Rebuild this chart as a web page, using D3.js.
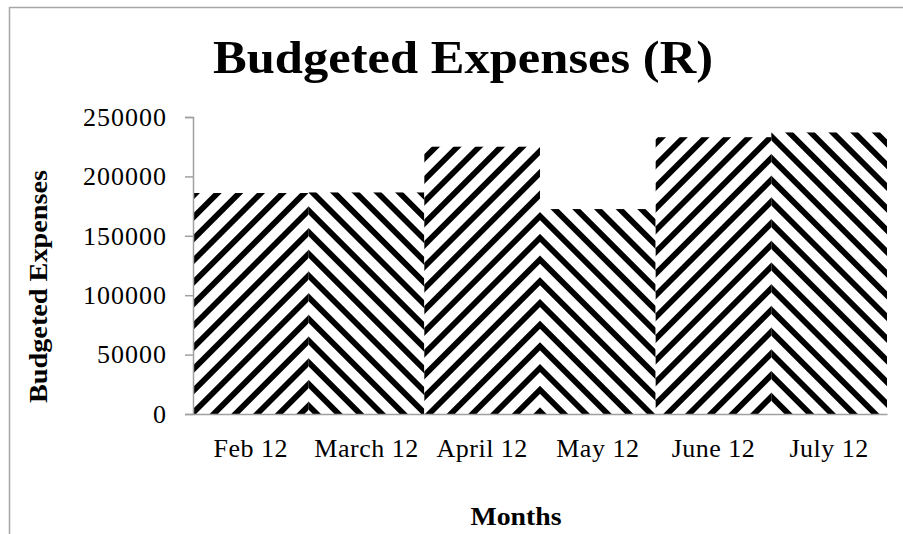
<!DOCTYPE html>
<html>
<head>
<meta charset="utf-8">
<script src="https://cdn.jsdelivr.net/npm/d3@7"></script>
<style>
  html, body { margin: 0; padding: 0; background: #fff; }
  svg { display: block; }
</style>
</head>
<body>
<script>
// Monthly budget figures (Rand)
const months = ["Feb 12", "March 12", "April 12", "May 12", "June 12", "July 12"];
const expenses = [186000, 186500, 225000, 172500, 233000, 237000];
const yTicks = [0, 50000, 100000, 150000, 200000, 250000];

const chartTitle = "Budgeted Expenses (R)";
const yTitle = "Budgeted Expenses";
const xTitle = "Months";

const W = 903, H = 534;
const plot = { left: 193, right: 887, top: 117, bottom: 414 };
const serif = "'Liberation Serif', 'Times New Roman', serif";
const axisGrey = "#a0a0a0";

const svg = d3.select("body").append("svg")
  .attr("width", W).attr("height", H);

const x = d3.scaleBand().domain(months).range([plot.left, plot.right]).padding(0);
const y = d3.scaleLinear().domain([0, 250000]).range([plot.bottom, plot.top]);

// Chevron fill: each pair of bars shares an apex on their common edge,
// left bar striped "/" and right bar "\".
const period = 21.7;            // vertical repeat of the stripes
const ink = 7.5;                // vertical thickness of a black stripe
const perp = period / Math.SQRT2;
const band = ink / Math.SQRT2;
const pairPhase = [401.7, 147, 132.3];   // y of a stripe top edge at each apex

const defs = svg.append("defs");
months.forEach((m, i) => {
  const pair = Math.floor(i / 2);
  const apexX = x(months[pair * 2]) + x.bandwidth();
  const rising = i % 2 === 0;
  const pat = defs.append("pattern")
    .attr("id", "chev" + i)
    .attr("patternUnits", "userSpaceOnUse")
    .attr("width", perp).attr("height", perp)
    .attr("patternTransform", `translate(${apexX},${pairPhase[pair]}) rotate(${rising ? 45 : -45})`);
  pat.append("rect").attr("width", perp).attr("height", perp).attr("fill", "#fff");
  pat.append("rect")
    .attr("x", rising ? 0 : perp - band)
    .attr("width", band).attr("height", perp)
    .attr("fill", "#000")
    .attr("shape-rendering", "crispEdges");
});

// Outer frame of the chart area
svg.append("path")
  .attr("d", `M9.5,${H} V7.5 H${W}`)
  .attr("fill", "none").attr("stroke", "#a6a6a6").attr("stroke-width", 1.5);

// Bars
svg.append("g").selectAll("rect")
  .data(expenses)
  .join("rect")
  .attr("x", (d, i) => x(months[i]))
  .attr("width", x.bandwidth())
  .attr("y", d => y(d))
  .attr("height", d => y(0) - y(d))
  .attr("fill", (d, i) => `url(#chev${i})`);

// Y axis
const yAxis = svg.append("g")
  .attr("transform", `translate(${plot.left},0)`)
  .call(d3.axisLeft(y).tickValues(yTicks).tickFormat(d3.format("d")).tickSize(8).tickPadding(18));
yAxis.select(".domain").attr("stroke", axisGrey).attr("stroke-width", 1.5);
yAxis.selectAll(".tick line").attr("stroke", axisGrey).attr("stroke-width", 1.5);
yAxis.selectAll(".tick text")
  .attr("font-family", serif).attr("font-size", 26).attr("fill", "#000")
  .attr("letter-spacing", 1).attr("dy", "0.32em");

// X axis
const xAxis = svg.append("g")
  .attr("transform", `translate(0,${plot.bottom})`)
  .call(d3.axisBottom(x).tickSize(0).tickPadding(25));
xAxis.select(".domain").attr("stroke", axisGrey).attr("stroke-width", 1.5);
xAxis.selectAll(".tick text")
  .attr("font-family", serif).attr("font-size", 26).attr("fill", "#000")
  .attr("letter-spacing", 0.5);

// Titles
svg.append("text")
  .attr("x", 463).attr("y", 73)
  .attr("text-anchor", "middle")
  .attr("font-family", serif).attr("font-weight", "bold").attr("font-size", 47)
  .attr("textLength", 500).attr("lengthAdjust", "spacingAndGlyphs")
  .text(chartTitle);

svg.append("text")
  .attr("transform", `translate(46.5,286.5) rotate(-90)`)
  .attr("text-anchor", "middle")
  .attr("font-family", serif).attr("font-weight", "bold").attr("font-size", 26)
  .attr("textLength", 233).attr("lengthAdjust", "spacingAndGlyphs")
  .text(yTitle);

svg.append("text")
  .attr("x", 516).attr("y", 525)
  .attr("text-anchor", "middle")
  .attr("font-family", serif).attr("font-weight", "bold").attr("font-size", 26)
  .attr("textLength", 91).attr("lengthAdjust", "spacingAndGlyphs")
  .text(xTitle);
</script>
</body>
</html>
